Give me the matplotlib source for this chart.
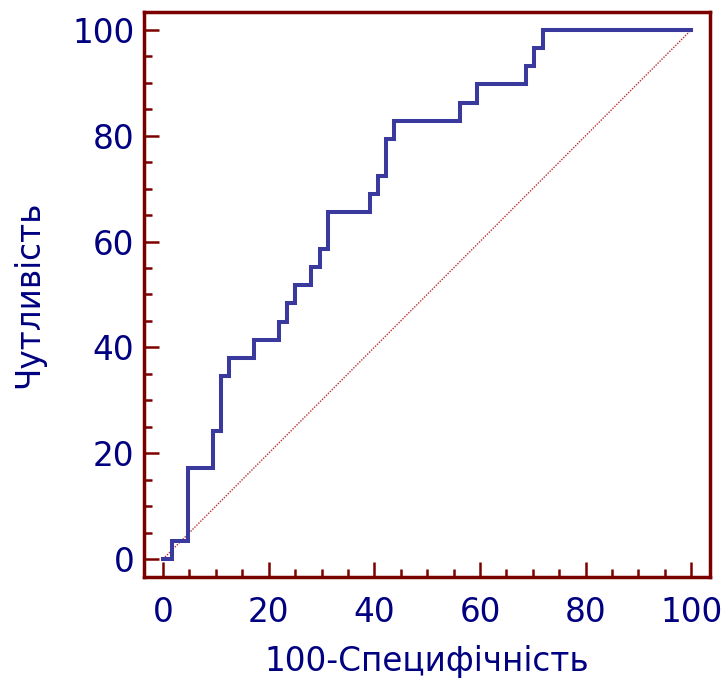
import matplotlib
matplotlib.use("Agg")
import matplotlib.pyplot as plt
from matplotlib.ticker import MultipleLocator

# ROC-крива: 100-Специфічність (x) та Чутливість (y), вершини сходинок
spec_100 = [0, 1.6, 4.7, 9.4, 10.9, 12.5, 17.2, 21.9, 23.4, 25.0, 28.1, 29.7,
            31.3, 39.1, 40.6, 42.2, 43.8, 56.3, 59.4, 68.8, 70.3, 71.9, 100]
sens = [0, 3.4, 17.2, 24.1, 34.5, 37.9, 41.4, 44.8, 48.3, 51.7, 55.2, 58.6,
        65.5, 69.0, 72.4, 79.3, 82.8, 86.2, 89.7, 93.1, 96.6, 100, 100]
ticks = [0, 20, 40, 60, 80, 100]

frame = "#7a0000"
text_c = "#000080"

plt.rcParams['font.family'] = ['DejaVu Sans']

fig = plt.figure(figsize=(7.24, 6.8), dpi=100)
ax = fig.add_axes([0.199, 0.1515, 0.782, 0.831])

# діагональ
ax.plot([0, 100], [0, 100], color="#b83030", lw=1.0, ls=(0, (1, 1)))
ax.plot(spec_100, sens, drawstyle="steps-post", color="#3a3a9e", lw=2.9,
        solid_joinstyle="miter")

ax.set_xlim(-3.6, 103.6)
ax.set_ylim(-3.4, 103.4)
ax.set_xticks(ticks)
ax.set_yticks(ticks)
ax.xaxis.set_minor_locator(MultipleLocator(5))
ax.yaxis.set_minor_locator(MultipleLocator(5))

for s in ax.spines.values():
    s.set_color(frame)
    s.set_linewidth(2.5)

ax.tick_params(which="both", direction="in", color=frame, width=1.8,
               labelcolor=text_c, labelsize=23.5)
ax.tick_params(which="major", length=11, pad=7)
ax.tick_params(axis="x", which="major", pad=13.5)
ax.tick_params(which="minor", length=5.5)

ax.set_xlabel("100-Специфічність", fontsize=23.5, color=text_c, labelpad=12)
ax.set_ylabel("Чутливість", fontsize=23.5, color=text_c, labelpad=19)

fig.savefig("out.png", dpi=100)
